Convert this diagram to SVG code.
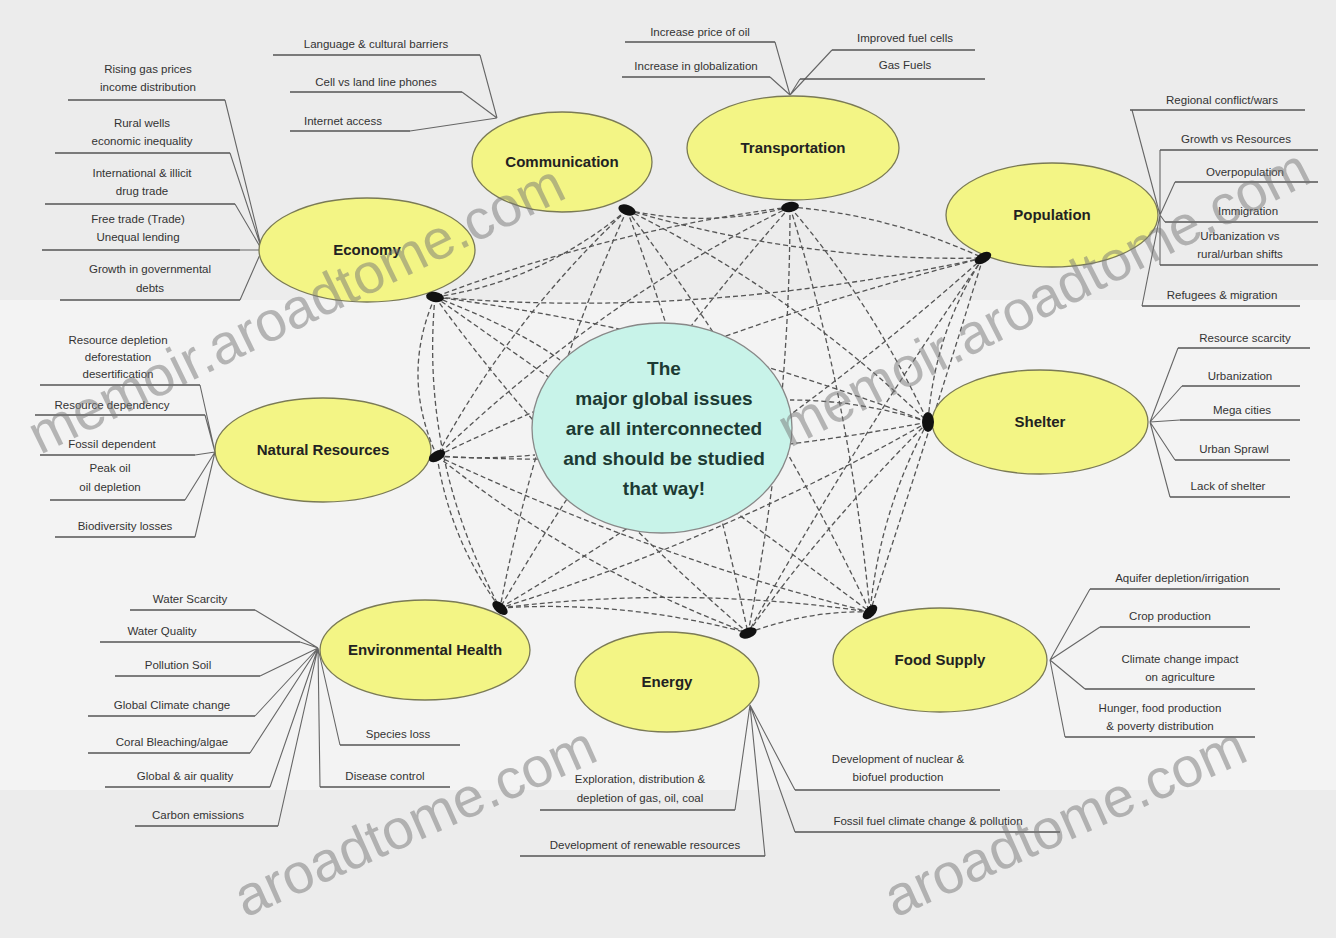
<svg xmlns="http://www.w3.org/2000/svg" width="1336" height="938" viewBox="0 0 1336 938">
<defs>
<style>
.bg{fill:#ececec}
.node ellipse{fill:#f3f585;stroke:#7a7a55;stroke-width:1.3}
.center ellipse{fill:#c8f3e9;stroke:#888;stroke-width:1.3}
.nl{font-family:"Liberation Sans",Arial,sans-serif;font-weight:bold;font-size:15px;fill:#222;text-anchor:middle}
.cl{font-family:"Liberation Sans",Arial,sans-serif;font-weight:bold;font-size:19px;fill:#1c3a33;text-anchor:middle}
.lt{font-family:"Liberation Sans",Arial,sans-serif;font-size:11.5px;fill:#333;text-anchor:middle}
.ul{stroke:#555;stroke-width:1.3;fill:none}
.ln{stroke:#666;stroke-width:1.1;fill:none}
.dash{stroke:#555;stroke-width:1.3;fill:none;stroke-dasharray:5 3}
.ah{fill:#111}
.wm{font-family:"Liberation Sans",Arial,sans-serif;font-size:56px;fill:#777;opacity:0.5}
</style>
</defs>
<rect class="bg" x="0" y="0" width="1336" height="938"/>
<rect x="0" y="300" width="1336" height="490" fill="#f3f3f3"/>

<g id="connectors">
<path class="dash" d="M627 210 Q708 228 790 207"/>
<path class="dash" d="M627 210 Q805 262 983 258"/>
<path class="dash" d="M627 210 Q540 282 435 297"/>
<path class="dash" d="M627 210 Q510 320 437 456"/>
<path class="dash" d="M627 210 Q790 290 928 422"/>
<path class="dash" d="M627 210 Q540 400 500 608"/>
<path class="dash" d="M627 210 Q700 410 748 633"/>
<path class="dash" d="M627 210 Q770 400 870 612"/>
<path class="dash" d="M790 207 Q890 215 983 258"/>
<path class="dash" d="M790 207 Q610 230 435 297"/>
<path class="dash" d="M790 207 Q600 300 437 456"/>
<path class="dash" d="M790 207 Q870 300 928 422"/>
<path class="dash" d="M790 207 Q620 400 500 608"/>
<path class="dash" d="M790 207 Q790 420 748 633"/>
<path class="dash" d="M790 207 Q850 400 870 612"/>
<path class="dash" d="M983 258 Q700 320 435 297"/>
<path class="dash" d="M983 258 Q700 330 437 456"/>
<path class="dash" d="M983 258 Q935 330 928 422"/>
<path class="dash" d="M983 258 Q780 440 500 608"/>
<path class="dash" d="M983 258 Q850 450 748 633"/>
<path class="dash" d="M983 258 Q930 430 870 612"/>
<path class="dash" d="M435 297 Q400 376 437 456"/>
<path class="dash" d="M435 297 Q690 330 928 422"/>
<path class="dash" d="M435 297 Q420 460 500 608"/>
<path class="dash" d="M435 297 Q560 470 748 633"/>
<path class="dash" d="M435 297 Q640 440 870 612"/>
<path class="dash" d="M437 456 Q680 470 928 422"/>
<path class="dash" d="M437 456 Q450 540 500 608"/>
<path class="dash" d="M437 456 Q580 570 748 633"/>
<path class="dash" d="M437 456 Q660 560 870 612"/>
<path class="dash" d="M928 422 Q720 540 500 608"/>
<path class="dash" d="M928 422 Q820 530 748 633"/>
<path class="dash" d="M928 422 Q880 510 870 612"/>
<path class="dash" d="M500 608 Q624 600 748 633"/>
<path class="dash" d="M500 608 Q685 585 870 612"/>
<path class="dash" d="M748 633 Q809 610 870 612"/>
<path class="dash" d="M435 297 Q520 330 560 360"/>
<path class="dash" d="M928 422 Q860 400 790 400"/>
<path class="dash" d="M437 456 Q480 460 535 455"/>

<g>
<path class="ln" d="M225 100 L262 250 M230 153 L262 250 M235 204 L262 250 M240 250 L262 250 M240 300 L262 250"/>
<path class="ln" d="M480 55 L497 118 M462 92 L497 118 M410 131 L497 118"/>
<path class="ln" d="M775 42 L790 95 M770 77 L790 95 M790 95 L832 50 M790 95 L800 79"/>
<path class="ln" d="M1160 215 L1132 110 M1160 215 L1160 150 M1160 215 L1175 182 M1160 215 L1165 222 M1160 215 L1160 265 M1160 215 L1142 306"/>
<path class="ln" d="M1150 422 L1178 348 M1150 422 L1182 386 M1150 422 L1180 420 M1150 422 L1175 460 M1150 422 L1170 497"/>
<path class="ln" d="M215 452 L200 385 M215 452 L205 415 M215 452 L195 455 M215 452 L185 500 M215 452 L195 537"/>
<path class="ln" d="M318 648 L255 610 M318 648 L300 642 M318 648 L260 676 M318 648 L255 716 M318 648 L250 753 M318 648 L270 787 M318 648 L278 826 M318 648 L340 745 M318 648 L320 787"/>
<path class="ln" d="M750 705 L735 810 M750 705 L765 856 M750 705 L795 790 M750 705 L795 832"/>
<path class="ln" d="M1050 660 L1090 589 M1050 660 L1100 627 M1050 660 L1085 689 M1050 660 L1065 737"/>
</g>
</g>

<g id="center" class="center">
<ellipse cx="662" cy="428" rx="130" ry="105"/>
<text class="cl" x="664" y="375">The</text>
<text class="cl" x="664" y="405">major global issues</text>
<text class="cl" x="664" y="435">are all interconnected</text>
<text class="cl" x="664" y="465">and should be studied</text>
<text class="cl" x="664" y="495">that way!</text>
</g>

<g id="communication" class="node">
<ellipse cx="562" cy="162" rx="90" ry="50"/>
<text class="nl" x="562" y="167">Communication</text>
</g>
<g id="transportation" class="node">
<ellipse cx="793" cy="148" rx="106" ry="52"/>
<text class="nl" x="793" y="153">Transportation</text>
</g>
<g id="population" class="node">
<ellipse cx="1052" cy="215" rx="106" ry="52"/>
<text class="nl" x="1052" y="220">Population</text>
</g>
<g id="economy" class="node">
<ellipse cx="367" cy="250" rx="108" ry="52"/>
<text class="nl" x="367" y="255">Economy</text>
</g>
<g id="natural-resources" class="node">
<ellipse cx="323" cy="450" rx="108" ry="52"/>
<text class="nl" x="323" y="455">Natural Resources</text>
</g>
<g id="shelter" class="node">
<ellipse cx="1040" cy="422" rx="108" ry="52"/>
<text class="nl" x="1040" y="427">Shelter</text>
</g>
<g id="environmental-health" class="node">
<ellipse cx="425" cy="650" rx="105" ry="50"/>
<text class="nl" x="425" y="655">Environmental Health</text>
</g>
<g id="energy" class="node">
<ellipse cx="667" cy="682" rx="92" ry="50"/>
<text class="nl" x="667" y="687">Energy</text>
</g>
<g id="food-supply" class="node">
<ellipse cx="940" cy="660" rx="107" ry="52"/>
<text class="nl" x="940" y="665">Food Supply</text>
</g>

<g id="arrowheads">
<ellipse class="ah" cx="627" cy="210" rx="9" ry="5" transform="rotate(20 627 210)"/>
<ellipse class="ah" cx="790" cy="207" rx="9" ry="5" transform="rotate(-10 790 207)"/>
<ellipse class="ah" cx="983" cy="258" rx="9" ry="5" transform="rotate(-30 983 258)"/>
<ellipse class="ah" cx="435" cy="297" rx="9" ry="5" transform="rotate(10 435 297)"/>
<ellipse class="ah" cx="437" cy="456" rx="9" ry="5" transform="rotate(-30 437 456)"/>
<ellipse class="ah" cx="928" cy="422" rx="6" ry="10"/>
<ellipse class="ah" cx="500" cy="608" rx="9" ry="5" transform="rotate(40 500 608)"/>
<ellipse class="ah" cx="748" cy="633" rx="9" ry="5" transform="rotate(-20 748 633)"/>
<ellipse class="ah" cx="870" cy="612" rx="9" ry="5" transform="rotate(-45 870 612)"/>
</g>

<g id="economy-leaves">
<text class="lt" x="148" y="73">Rising gas prices</text>
<text class="lt" x="148" y="91">income distribution</text>
<line class="ul" x1="68" y1="100" x2="225" y2="100"/>
<text class="lt" x="142" y="127">Rural wells</text>
<text class="lt" x="142" y="145">economic inequality</text>
<line class="ul" x1="55" y1="153" x2="230" y2="153"/>
<text class="lt" x="142" y="177">International &amp; illicit</text>
<text class="lt" x="142" y="195">drug trade</text>
<line class="ul" x1="45" y1="204" x2="235" y2="204"/>
<text class="lt" x="138" y="223">Free trade (Trade)</text>
<text class="lt" x="138" y="241">Unequal lending</text>
<line class="ul" x1="42" y1="250" x2="240" y2="250"/>
<text class="lt" x="150" y="273">Growth in governmental</text>
<text class="lt" x="150" y="292">debts</text>
<line class="ul" x1="60" y1="300" x2="240" y2="300"/>
</g>

<g id="communication-leaves">
<text class="lt" x="376" y="48">Language &amp; cultural barriers</text>
<line class="ul" x1="273" y1="55" x2="480" y2="55"/>
<text class="lt" x="376" y="86">Cell vs land line phones</text>
<line class="ul" x1="290" y1="92" x2="462" y2="92"/>
<text class="lt" x="343" y="125">Internet access</text>
<line class="ul" x1="290" y1="131" x2="410" y2="131"/>
</g>

<g id="transportation-leaves">
<text class="lt" x="700" y="36">Increase price of oil</text>
<line class="ul" x1="625" y1="42" x2="775" y2="42"/>
<text class="lt" x="696" y="70">Increase in globalization</text>
<line class="ul" x1="622" y1="77" x2="770" y2="77"/>
<text class="lt" x="905" y="42">Improved fuel cells</text>
<line class="ul" x1="832" y1="50" x2="975" y2="50"/>
<text class="lt" x="905" y="69">Gas Fuels</text>
<line class="ul" x1="800" y1="79" x2="985" y2="79"/>
</g>

<g id="population-leaves">
<text class="lt" x="1222" y="104">Regional conflict/wars</text>
<line class="ul" x1="1130" y1="110" x2="1305" y2="110"/>
<text class="lt" x="1236" y="143">Growth vs Resources</text>
<line class="ul" x1="1160" y1="150" x2="1318" y2="150"/>
<text class="lt" x="1245" y="176">Overpopulation</text>
<line class="ul" x1="1175" y1="182" x2="1318" y2="182"/>
<text class="lt" x="1248" y="215">Immigration</text>
<line class="ul" x1="1165" y1="222" x2="1318" y2="222"/>
<text class="lt" x="1240" y="240">Urbanization vs</text>
<text class="lt" x="1240" y="258">rural/urban shifts</text>
<line class="ul" x1="1160" y1="265" x2="1318" y2="265"/>
<text class="lt" x="1222" y="299">Refugees &amp; migration</text>
<line class="ul" x1="1142" y1="306" x2="1300" y2="306"/>
</g>

<g id="shelter-leaves">
<text class="lt" x="1245" y="342">Resource scarcity</text>
<line class="ul" x1="1178" y1="348" x2="1310" y2="348"/>
<text class="lt" x="1240" y="380">Urbanization</text>
<line class="ul" x1="1182" y1="386" x2="1300" y2="386"/>
<text class="lt" x="1242" y="414">Mega cities</text>
<line class="ul" x1="1180" y1="420" x2="1300" y2="420"/>
<text class="lt" x="1234" y="453">Urban Sprawl</text>
<line class="ul" x1="1175" y1="460" x2="1290" y2="460"/>
<text class="lt" x="1228" y="490">Lack of shelter</text>
<line class="ul" x1="1170" y1="497" x2="1290" y2="497"/>
</g>

<g id="natural-resources-leaves">
<text class="lt" x="118" y="344">Resource depletion</text>
<text class="lt" x="118" y="361">deforestation</text>
<text class="lt" x="118" y="378">desertification</text>
<line class="ul" x1="40" y1="385" x2="200" y2="385"/>
<text class="lt" x="112" y="409">Resource dependency</text>
<line class="ul" x1="35" y1="415" x2="205" y2="415"/>
<text class="lt" x="112" y="448">Fossil dependent</text>
<line class="ul" x1="40" y1="455" x2="195" y2="455"/>
<text class="lt" x="110" y="472">Peak oil</text>
<text class="lt" x="110" y="491">oil depletion</text>
<line class="ul" x1="50" y1="500" x2="185" y2="500"/>
<text class="lt" x="125" y="530">Biodiversity losses</text>
<line class="ul" x1="55" y1="537" x2="195" y2="537"/>
</g>

<g id="environmental-health-leaves">
<text class="lt" x="190" y="603">Water Scarcity</text>
<line class="ul" x1="130" y1="610" x2="255" y2="610"/>
<text class="lt" x="162" y="635">Water Quality</text>
<line class="ul" x1="100" y1="642" x2="300" y2="642"/>
<text class="lt" x="178" y="669">Pollution Soil</text>
<line class="ul" x1="115" y1="676" x2="260" y2="676"/>
<text class="lt" x="172" y="709">Global Climate change</text>
<line class="ul" x1="88" y1="716" x2="255" y2="716"/>
<text class="lt" x="172" y="746">Coral Bleaching/algae</text>
<line class="ul" x1="88" y1="753" x2="250" y2="753"/>
<text class="lt" x="185" y="780">Global &amp; air quality</text>
<line class="ul" x1="105" y1="787" x2="270" y2="787"/>
<text class="lt" x="198" y="819">Carbon emissions</text>
<line class="ul" x1="135" y1="826" x2="278" y2="826"/>
<text class="lt" x="398" y="738">Species loss</text>
<line class="ul" x1="340" y1="745" x2="460" y2="745"/>
<text class="lt" x="385" y="780">Disease control</text>
<line class="ul" x1="320" y1="787" x2="450" y2="787"/>
</g>

<g id="energy-leaves">
<text class="lt" x="640" y="783">Exploration, distribution &amp;</text>
<text class="lt" x="640" y="802">depletion of gas, oil, coal</text>
<line class="ul" x1="540" y1="810" x2="735" y2="810"/>
<text class="lt" x="645" y="849">Development of renewable resources</text>
<line class="ul" x1="520" y1="856" x2="765" y2="856"/>
<text class="lt" x="898" y="763">Development of nuclear &amp;</text>
<text class="lt" x="898" y="781">biofuel production</text>
<line class="ul" x1="795" y1="790" x2="1000" y2="790"/>
<text class="lt" x="928" y="825">Fossil fuel climate change &amp; pollution</text>
<line class="ul" x1="795" y1="832" x2="1060" y2="832"/>
</g>

<g id="food-supply-leaves">
<text class="lt" x="1182" y="582">Aquifer depletion/irrigation</text>
<line class="ul" x1="1090" y1="589" x2="1280" y2="589"/>
<text class="lt" x="1170" y="620">Crop production</text>
<line class="ul" x1="1100" y1="627" x2="1250" y2="627"/>
<text class="lt" x="1180" y="663">Climate change impact</text>
<text class="lt" x="1180" y="681">on agriculture</text>
<line class="ul" x1="1085" y1="689" x2="1255" y2="689"/>
<text class="lt" x="1160" y="712">Hunger, food production</text>
<text class="lt" x="1160" y="730">&amp; poverty distribution</text>
<line class="ul" x1="1065" y1="737" x2="1255" y2="737"/>
</g>

<g id="watermarks">
<text class="wm" transform="translate(40 455) rotate(-26)">memoir.aroadtome.com</text>
<text class="wm" transform="translate(790 448) rotate(-27)">memoir.aroadtome.com</text>
<text class="wm" transform="translate(245 918) rotate(-24)">aroadtome.com</text>
<text class="wm" transform="translate(895 918) rotate(-24)">aroadtome.com</text>
</g>
</svg>
